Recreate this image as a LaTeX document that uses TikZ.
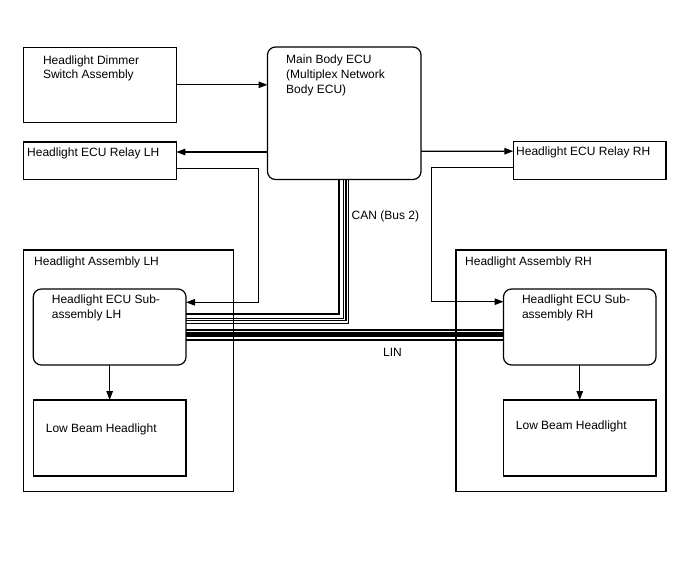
\documentclass[tikz,border=0pt]{standalone}
\usepackage{fontspec}
\setmainfont{Liberation Sans}
\usetikzlibrary{arrows.meta,positioning,calc}
\tikzset{
  hlBase/.style={
    anchor=north west,
    inner sep=0pt,
    outer sep=0pt,
    line width=1.2pt,
    draw=black
  },
  hlBox/.style={
    hlBase,
    minimum width=153pt,
    minimum height=76pt
  },
  hlRound/.style={
    hlBox,
    rounded corners=8pt
  },
  hlText/.style={
    font=\fontsize{12pt}{14.6pt}\selectfont,
    align=left,
    anchor=north west,
    inner sep=0pt,
    text=black
  },
  hlArrow/.style={
    line width=1.2pt,
    -{Triangle[length=9pt,width=6.5pt]}
  },
  hlWire/.style={
    line width=1.2pt
  },
  hlBus/.style={
    line width=4.5pt
  }
}

\begin{document}
\begin{tikzpicture}[x=1pt, y=-1pt]
  \useasboundingbox (0,0) rectangle (688,560);

  % top row
  \node (dimmer) [hlBox, minimum height=75pt,
    label={[hlText, xshift=19.5pt, yshift=-8pt]north west:{Headlight Dimmer\\Switch Assembly}}] at (23.3,47.3) {};
  \node (ecu) [hlRound, minimum width=153.5pt, minimum height=132.5pt,
    label={[hlText, xshift=18.5pt, yshift=-8pt]north west:{Main Body ECU\\(Multiplex Network\\Body ECU)}}] at (267.5,47) {};
  \node (relayL) [hlBox, minimum height=37.5pt,
    label={[hlText, xshift=3.7pt, yshift=-5.6pt]north west:{Headlight ECU Relay LH}}] at (23.3,142) {};
  \node (relayR) [hlBox, minimum width=152.7pt, minimum height=38pt,
    label={[hlText, xshift=2.7pt, yshift=-5pt]north west:{Headlight ECU Relay RH}}] at (513.3,141.7) {};

  % headlight assemblies
  \node (asmL) [hlBase, minimum width=210pt, minimum height=241.7pt,
    label={[hlText, xshift=10.7pt, yshift=-6.7pt]north west:{Headlight Assembly LH}}] at (23.3,250) {};
  \node (asmR) [hlBase, minimum width=210pt, minimum height=241.7pt,
    label={[hlText, xshift=9pt, yshift=-6.5pt]north west:{Headlight Assembly RH}}] at (456,250) {};

  \node (subL) [hlRound, minimum width=152.7pt,
    label={[hlText, xshift=18.4pt, yshift=-6pt]north west:{Headlight ECU Sub-\\assembly LH}}] at (33.3,289) {};
  \node (subR) [hlRound, minimum width=152.5pt,
    label={[hlText, xshift=18.3pt, yshift=-6pt]north west:{Headlight ECU Sub-\\assembly RH}}] at (503.5,289) {};
  \node (lowL) [hlBox, minimum width=152.7pt,
    label={[hlText, xshift=12.4pt, yshift=-23.5pt]north west:{Low Beam Headlight}}] at (33.3,400) {};
  \node (lowR) [hlBox, minimum width=152.5pt,
    label={[hlText, xshift=12.2pt, yshift=-20.5pt]north west:{Low Beam Headlight}}] at (503.5,400) {};

  % signals
  \draw [hlArrow] (dimmer.east) -- (dimmer.east -| ecu.west);
  \draw [hlArrow] ([yshift=-38.75pt]ecu.west) -- ([yshift=8.75pt]relayL.east);
  \draw [hlArrow] ([yshift=-38pt]ecu.east) -- ([yshift=9.5pt]relayR.west);
  \draw [hlArrow] ([yshift=-7.75pt]relayL.east) -- ++(82,0) |- ([yshift=24.7pt]subL.east);
  \draw [hlArrow] ([yshift=-7pt]relayR.west) -- ++(-82,0) |- ([yshift=25.3pt]subR.west);
  \draw [hlArrow] (subL) -- (lowL);
  \draw [hlArrow] (subR) -- (lowR);

  % CAN bus
  \foreach \dx/\dy in {-5.25/13, -1/8.7, 1.75/6.3, 4.5/3.7}
    \draw [hlWire] ([xshift=\dx pt]ecu.south) |- ([yshift=\dy pt]subL.east);
  \node (canLabel) [hlText, anchor=west] at (351.5,216.5) {CAN (Bus 2)};

  % LIN bus
  \draw [hlWire] ([yshift=-3pt]subL.east) -- ([yshift=-3pt]subR.west);
  \draw [hlBus] ([yshift=-7.7pt]subL.east) -- ([yshift=-7.7pt]subR.west);
  \draw [hlWire] ([yshift=-13pt]subL.east) -- ([yshift=-13pt]subR.west);
  \node (linLabel) [hlText, anchor=west] at (383,352.5) {LIN};
\end{tikzpicture}
\end{document}
